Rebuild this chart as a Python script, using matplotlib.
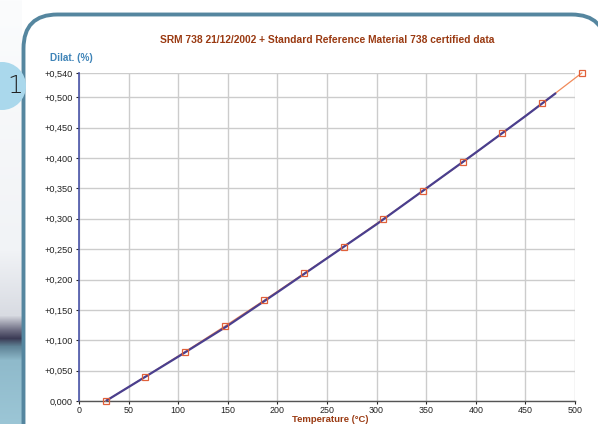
import numpy as np
import matplotlib
matplotlib.use('Agg')
import matplotlib.pyplot as plt
from matplotlib.patches import FancyBboxPatch, Circle
from matplotlib.ticker import FuncFormatter

plt.rcParams['font.family'] = ['Liberation Sans', 'DejaVu Sans']

# SRM 738 certified points (temperature in C, dilatation in %)
cert_temp = [26.85, 66.85, 106.85, 146.85, 186.85, 226.85, 266.85,
             306.85, 346.85, 386.85, 426.85, 466.85, 506.85]
cert_dil = [0.000, 0.040, 0.081, 0.123, 0.166, 0.210, 0.254,
            0.300, 0.346, 0.393, 0.441, 0.490, 0.540]

# measured run 21/12/2002
meas_temp = [28, 60, 100, 150, 200, 250, 300, 350, 400, 450, 480]
meas_dil = [0.001, 0.033, 0.073, 0.124, 0.179, 0.235, 0.291, 0.350, 0.409, 0.469, 0.506]

x_ticks = list(range(0, 501, 50))
y_ticks = [0.0, 0.05, 0.10, 0.15, 0.20, 0.25, 0.30, 0.35, 0.40, 0.45, 0.50, 0.54]

W, H = 598, 424
fig = plt.figure(figsize=(W / 100, H / 100), dpi=100)

# background decoration in pixel coordinates
bg = fig.add_axes([0, 0, 1, 1], zorder=0)
bg.set_xlim(0, W)
bg.set_ylim(H, 0)
bg.axis('off')

# left side gradient strip
stops = [(0, '#fbfcfd'), (250, '#f1f3f6'), (315, '#d8dbe2'), (330, '#6a6a80'),
         (338, '#3b3b55'), (346, '#5f8396'), (360, '#8fbacb'), (424, '#9cc6d6')]
rows = np.arange(H)
cols = np.array([matplotlib.colors.to_rgb(c) for _, c in stops])
pos = np.array([p for p, _ in stops])
strip = np.stack([np.interp(rows, pos, cols[:, k]) for k in range(3)], axis=1)
bg.imshow(strip[:, None, :], extent=(0, 22, H, 0), aspect='auto', zorder=1)

frame = FancyBboxPatch((23.5, 14.5), 582, 460, boxstyle='round,pad=0,rounding_size=34',
                       facecolor='white', edgecolor='#55869f', linewidth=2.8, zorder=2)
bg.add_patch(frame)
bg.add_patch(Circle((2, 86), 24, facecolor='#aad8ec', edgecolor='none', zorder=3))
bg.text(15, 86, '1', fontsize=18, color='#222222', ha='center', va='center',
        family='DejaVu Sans', fontweight='light', zorder=4)

# main chart
ax = fig.add_axes([79 / W, 1 - 401 / H, (575 - 79) / W, (401 - 73) / H], zorder=2)
ax.patch.set_alpha(0)
ax.plot(cert_temp, cert_dil, color='#f08a5a', linewidth=0.9, zorder=3, clip_on=False)
ax.plot(meas_temp, meas_dil, color='#4a3f8e', linewidth=1.6, zorder=4)
ax.plot(cert_temp, cert_dil, linestyle='none', marker='s', markersize=4.2,
        markerfacecolor='none', markeredgecolor='#e0603a', markeredgewidth=0.9,
        zorder=5, clip_on=False)

ax.set_xlim(0, 500)
ax.set_ylim(0, 0.54)
ax.set_xticks(x_ticks)
ax.set_yticks(y_ticks)
ax.yaxis.set_major_formatter(FuncFormatter(
    lambda v, p: '0,000' if v == 0 else '+' + f'{v:.3f}'.replace('.', ',')))
ax.grid(True, color='#cccccc', linewidth=1.0)
ax.set_axisbelow(True)
for s in ['top', 'right']:
    ax.spines[s].set_visible(False)
ax.spines['left'].set_color('#4a55a8')
ax.spines['left'].set_linewidth(1.2)
ax.spines['bottom'].set_color('#555555')
ax.spines['bottom'].set_linewidth(1.0)
ax.tick_params(axis='both', labelsize=6.6, length=2.5, width=0.8, pad=2, colors='#222222')
ax.tick_params(axis='x', labelsize=6.4, pad=1.2)

fig.text(327 / W, 1 - 40 / H, 'SRM 738 21/12/2002 + Standard Reference Material 738 certified data',
         fontsize=7.4, fontweight='bold', color='#9a3a12', ha='center', va='center')
fig.text(50 / W, 1 - 58 / H, 'Dilat. (%)', fontsize=7.2, fontweight='bold',
         color='#3f84b8', ha='left', va='center')
fig.text(330 / W, 0.5 / H, 'Temperature (°C)', fontsize=6.8, fontweight='bold',
         color='#9a3a12', ha='center', va='bottom')

fig.savefig('out.png', dpi=100)
